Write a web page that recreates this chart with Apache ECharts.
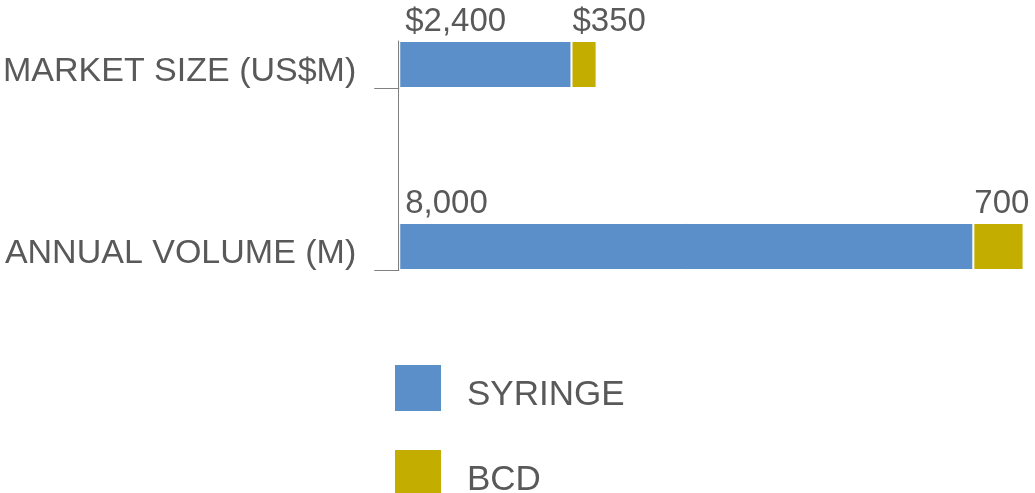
<!DOCTYPE html>
<html>
<head>
<meta charset="utf-8">
<script src="https://cdn.jsdelivr.net/npm/echarts@6/dist/echarts.min.js"></script>
<style>
  html, body { margin: 0; padding: 0; background: #fff; }
  #chart { width: 1035px; height: 493px; }
</style>
</head>
<body>
<div id="chart"></div>
<script>
// data
var categories = ['MARKET SIZE (US$M)', 'ANNUAL VOLUME (M)'];
var syringe = [2400, 8000];
var bcd = [350, 700];
var prefixes = ['$', ''];   // market size is in dollars

var chart = echarts.init(document.getElementById('chart'));
var txt = '#595959';
var axisGrey = '#808080';

function fmt(p) {
  return prefixes[p.dataIndex] + p.value.toLocaleString('en-US');
}

function barLabel(dx) {
  return {
    show: true,
    position: [dx, -36],
    formatter: fmt,
    color: txt,
    fontSize: 33,
    fontFamily: 'Liberation Sans'
  };
}

chart.setOption({
  animation: false,
  textStyle: { fontFamily: 'Liberation Sans' },
  legend: {
    data: ['SYRINGE', 'BCD'],
    orient: 'vertical',
    left: 388,
    top: 358,
    height: 300,
    icon: 'rect',
    itemWidth: 48,
    itemHeight: 48,
    itemGap: 35,
    formatter: '{t|{name}}',
    textStyle: {
      fontSize: 35,
      color: txt,
      rich: { t: { fontSize: 35, color: txt, padding: [14, 0, 0, 20] } }
    }
  },
  grid: [
    { left: 398, right: 15, top: 88, height: 182 },
    { left: 398, right: 15, top: 41, height: 229 }
  ],
  xAxis: [
    { type: 'value', min: 0, max: 8650, show: false, gridIndex: 0 },
    { type: 'value', show: false, gridIndex: 1 }
  ],
  yAxis: [
    {
      type: 'category',
      gridIndex: 0,
      data: categories,
      inverse: true,
      boundaryGap: false,
      axisLine: { show: false },
      axisTick: { show: true, length: 25, lineStyle: { color: axisGrey } },
      axisLabel: { margin: 43, fontSize: 34, lineHeight: 32, color: txt, verticalAlign: 'bottom' },
      splitLine: { show: false }
    },
    {
      // only the vertical axis line, which runs from the top bar down
      type: 'value',
      gridIndex: 1,
      z: 10,
      axisLine: { show: true, lineStyle: { color: axisGrey } },
      axisTick: { show: false },
      axisLabel: { show: false },
      splitLine: { show: false }
    }
  ],
  series: [
    {
      name: 'SYRINGE',
      type: 'bar',
      stack: 'total',
      data: syringe,
      barWidth: 47,
      barGap: 0,
      clip: false,
      itemStyle: { color: '#5B8FCA', borderColor: '#fff', borderWidth: 1 },
      label: barLabel(6)
    },
    {
      name: 'BCD',
      type: 'bar',
      stack: 'total',
      data: bcd,
      barWidth: 47,
      barGap: 0,
      clip: false,
      itemStyle: { color: '#C3AE00', borderColor: '#fff', borderWidth: 1 },
      label: barLabel(1)
    },
    {
      // empty slot so the bars sit just above each category tick
      name: 'spacer',
      type: 'bar',
      data: [null, null],
      barWidth: 47,
      barGap: 0,
      silent: true
    }
  ]
});
</script>
</body>
</html>
